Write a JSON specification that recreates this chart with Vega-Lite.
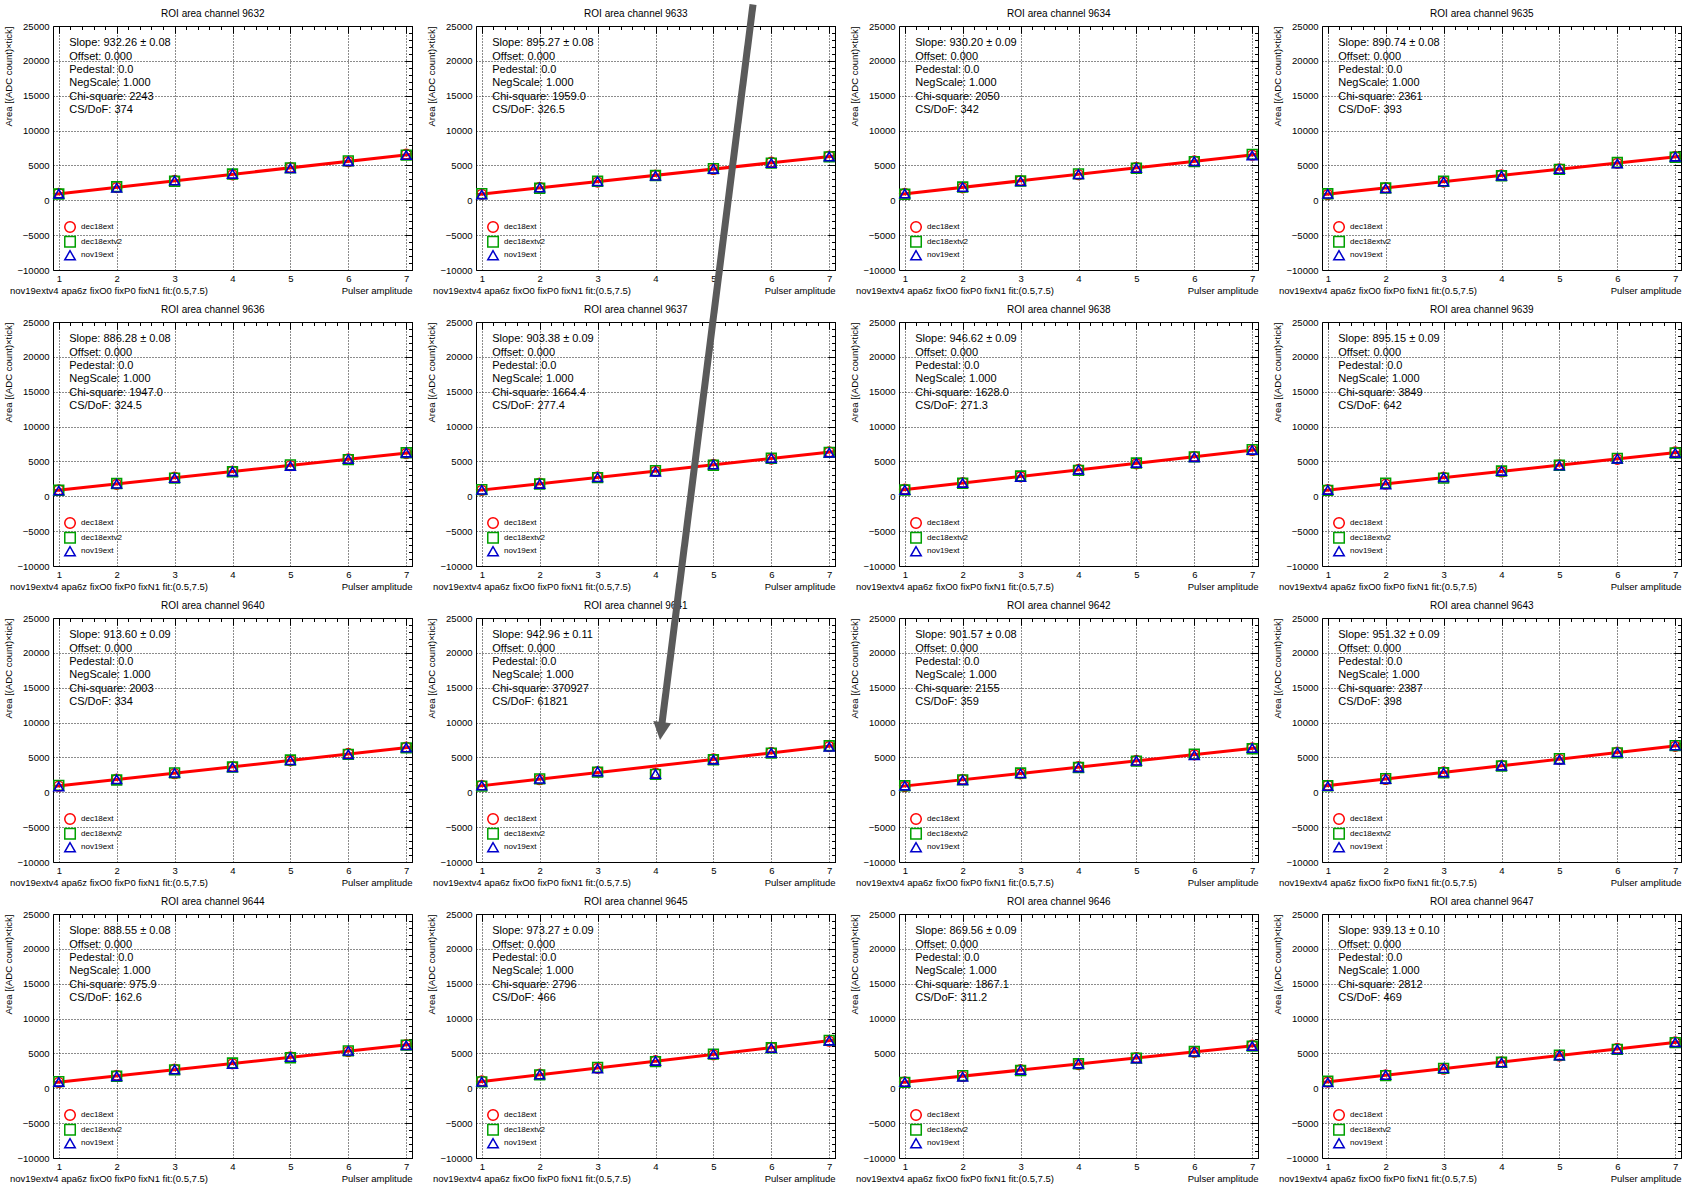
{
  "$schema": "https://vega.github.io/schema/vega-lite/v6.json",
  "background": "white",
  "padding": {"left": 2, "top": 0, "right": 0, "bottom": 0},
  "data": {
    "values": [
      {"kind": "fit", "ch": 9632, "title": "ROI area channel 9632", "slope": 932.26, "stats": ["Slope: 932.26 ± 0.08", "Offset: 0.000", "Pedestal: 0.0", "NegScale: 1.000", "Chi-square: 2243", "CS/DoF: 374"]},
      {"kind": "fit", "ch": 9633, "title": "ROI area channel 9633", "slope": 895.27, "stats": ["Slope: 895.27 ± 0.08", "Offset: 0.000", "Pedestal: 0.0", "NegScale: 1.000", "Chi-square: 1959.0", "CS/DoF: 326.5"]},
      {"kind": "fit", "ch": 9634, "title": "ROI area channel 9634", "slope": 930.20, "stats": ["Slope: 930.20 ± 0.09", "Offset: 0.000", "Pedestal: 0.0", "NegScale: 1.000", "Chi-square: 2050", "CS/DoF: 342"]},
      {"kind": "fit", "ch": 9635, "title": "ROI area channel 9635", "slope": 890.74, "stats": ["Slope: 890.74 ± 0.08", "Offset: 0.000", "Pedestal: 0.0", "NegScale: 1.000", "Chi-square: 2361", "CS/DoF: 393"]},
      {"kind": "fit", "ch": 9636, "title": "ROI area channel 9636", "slope": 886.28, "stats": ["Slope: 886.28 ± 0.08", "Offset: 0.000", "Pedestal: 0.0", "NegScale: 1.000", "Chi-square: 1947.0", "CS/DoF: 324.5"]},
      {"kind": "fit", "ch": 9637, "title": "ROI area channel 9637", "slope": 903.38, "stats": ["Slope: 903.38 ± 0.09", "Offset: 0.000", "Pedestal: 0.0", "NegScale: 1.000", "Chi-square: 1664.4", "CS/DoF: 277.4"]},
      {"kind": "fit", "ch": 9638, "title": "ROI area channel 9638", "slope": 946.62, "stats": ["Slope: 946.62 ± 0.09", "Offset: 0.000", "Pedestal: 0.0", "NegScale: 1.000", "Chi-square: 1628.0", "CS/DoF: 271.3"]},
      {"kind": "fit", "ch": 9639, "title": "ROI area channel 9639", "slope": 895.15, "stats": ["Slope: 895.15 ± 0.09", "Offset: 0.000", "Pedestal: 0.0", "NegScale: 1.000", "Chi-square: 3849", "CS/DoF: 642"]},
      {"kind": "fit", "ch": 9640, "title": "ROI area channel 9640", "slope": 913.60, "stats": ["Slope: 913.60 ± 0.09", "Offset: 0.000", "Pedestal: 0.0", "NegScale: 1.000", "Chi-square: 2003", "CS/DoF: 334"]},
      {"kind": "fit", "ch": 9641, "title": "ROI area channel 9641", "slope": 942.96, "stats": ["Slope: 942.96 ± 0.11", "Offset: 0.000", "Pedestal: 0.0", "NegScale: 1.000", "Chi-square: 370927", "CS/DoF: 61821"]},
      {"kind": "fit", "ch": 9642, "title": "ROI area channel 9642", "slope": 901.57, "stats": ["Slope: 901.57 ± 0.08", "Offset: 0.000", "Pedestal: 0.0", "NegScale: 1.000", "Chi-square: 2155", "CS/DoF: 359"]},
      {"kind": "fit", "ch": 9643, "title": "ROI area channel 9643", "slope": 951.32, "stats": ["Slope: 951.32 ± 0.09", "Offset: 0.000", "Pedestal: 0.0", "NegScale: 1.000", "Chi-square: 2387", "CS/DoF: 398"]},
      {"kind": "fit", "ch": 9644, "title": "ROI area channel 9644", "slope": 888.55, "stats": ["Slope: 888.55 ± 0.08", "Offset: 0.000", "Pedestal: 0.0", "NegScale: 1.000", "Chi-square: 975.9", "CS/DoF: 162.6"]},
      {"kind": "fit", "ch": 9645, "title": "ROI area channel 9645", "slope": 973.27, "stats": ["Slope: 973.27 ± 0.09", "Offset: 0.000", "Pedestal: 0.0", "NegScale: 1.000", "Chi-square: 2796", "CS/DoF: 466"]},
      {"kind": "fit", "ch": 9646, "title": "ROI area channel 9646", "slope": 869.56, "stats": ["Slope: 869.56 ± 0.09", "Offset: 0.000", "Pedestal: 0.0", "NegScale: 1.000", "Chi-square: 1867.1", "CS/DoF: 311.2"]},
      {"kind": "fit", "ch": 9647, "title": "ROI area channel 9647", "slope": 939.13, "stats": ["Slope: 939.13 ± 0.10", "Offset: 0.000", "Pedestal: 0.0", "NegScale: 1.000", "Chi-square: 2812", "CS/DoF: 469"]},

      {"kind": "pts", "ch": 9632, "x": 1, "dec18ext": 992, "dec18extv2": 902, "nov19ext": 952},
      {"kind": "pts", "ch": 9632, "x": 2, "dec18ext": 1825, "dec18extv2": 1935, "nov19ext": 1785},
      {"kind": "pts", "ch": 9632, "x": 3, "dec18ext": 2847, "dec18extv2": 2737, "nov19ext": 2827},
      {"kind": "pts", "ch": 9632, "x": 4, "dec18ext": 3659, "dec18extv2": 3769, "nov19ext": 3779},
      {"kind": "pts", "ch": 9632, "x": 5, "dec18ext": 4691, "dec18extv2": 4641, "nov19ext": 4601},
      {"kind": "pts", "ch": 9632, "x": 6, "dec18ext": 5544, "dec18extv2": 5654, "nov19ext": 5614},
      {"kind": "pts", "ch": 9632, "x": 7, "dec18ext": 6606, "dec18extv2": 6476, "nov19ext": 6496},

      {"kind": "pts", "ch": 9633, "x": 1, "dec18ext": 855, "dec18extv2": 965, "nov19ext": 815},
      {"kind": "pts", "ch": 9633, "x": 2, "dec18ext": 1841, "dec18extv2": 1731, "nov19ext": 1821},
      {"kind": "pts", "ch": 9633, "x": 3, "dec18ext": 2616, "dec18extv2": 2726, "nov19ext": 2736},
      {"kind": "pts", "ch": 9633, "x": 4, "dec18ext": 3611, "dec18extv2": 3561, "nov19ext": 3521},
      {"kind": "pts", "ch": 9633, "x": 5, "dec18ext": 4426, "dec18extv2": 4536, "nov19ext": 4496},
      {"kind": "pts", "ch": 9633, "x": 6, "dec18ext": 5452, "dec18extv2": 5322, "nov19ext": 5342},
      {"kind": "pts", "ch": 9633, "x": 7, "dec18ext": 6327, "dec18extv2": 6237, "nov19ext": 6287},

      {"kind": "pts", "ch": 9634, "x": 1, "dec18ext": 980, "dec18extv2": 870, "nov19ext": 960},
      {"kind": "pts", "ch": 9634, "x": 2, "dec18ext": 1790, "dec18extv2": 1900, "nov19ext": 1910},
      {"kind": "pts", "ch": 9634, "x": 3, "dec18ext": 2821, "dec18extv2": 2771, "nov19ext": 2731},
      {"kind": "pts", "ch": 9634, "x": 4, "dec18ext": 3671, "dec18extv2": 3781, "nov19ext": 3741},
      {"kind": "pts", "ch": 9634, "x": 5, "dec18ext": 4731, "dec18extv2": 4601, "nov19ext": 4621},
      {"kind": "pts", "ch": 9634, "x": 6, "dec18ext": 5641, "dec18extv2": 5551, "nov19ext": 5601},
      {"kind": "pts", "ch": 9634, "x": 7, "dec18ext": 6471, "dec18extv2": 6581, "nov19ext": 6431},

      {"kind": "pts", "ch": 9635, "x": 1, "dec18ext": 821, "dec18extv2": 931, "nov19ext": 941},
      {"kind": "pts", "ch": 9635, "x": 2, "dec18ext": 1811, "dec18extv2": 1761, "nov19ext": 1721},
      {"kind": "pts", "ch": 9635, "x": 3, "dec18ext": 2622, "dec18extv2": 2732, "nov19ext": 2692},
      {"kind": "pts", "ch": 9635, "x": 4, "dec18ext": 3643, "dec18extv2": 3513, "nov19ext": 3533},
      {"kind": "pts", "ch": 9635, "x": 5, "dec18ext": 4514, "dec18extv2": 4424, "nov19ext": 4474},
      {"kind": "pts", "ch": 9635, "x": 6, "dec18ext": 5304, "dec18extv2": 5414, "nov19ext": 5264},
      {"kind": "pts", "ch": 9635, "x": 7, "dec18ext": 6285, "dec18extv2": 6175, "nov19ext": 6265},

      {"kind": "pts", "ch": 9636, "x": 1, "dec18ext": 916, "dec18extv2": 866, "nov19ext": 826},
      {"kind": "pts", "ch": 9636, "x": 2, "dec18ext": 1723, "dec18extv2": 1833, "nov19ext": 1793},
      {"kind": "pts", "ch": 9636, "x": 3, "dec18ext": 2739, "dec18extv2": 2609, "nov19ext": 2629},
      {"kind": "pts", "ch": 9636, "x": 4, "dec18ext": 3605, "dec18extv2": 3515, "nov19ext": 3565},
      {"kind": "pts", "ch": 9636, "x": 5, "dec18ext": 4391, "dec18extv2": 4501, "nov19ext": 4351},
      {"kind": "pts", "ch": 9636, "x": 6, "dec18ext": 5368, "dec18extv2": 5258, "nov19ext": 5348},
      {"kind": "pts", "ch": 9636, "x": 7, "dec18ext": 6134, "dec18extv2": 6244, "nov19ext": 6254},

      {"kind": "pts", "ch": 9637, "x": 1, "dec18ext": 853, "dec18extv2": 963, "nov19ext": 923},
      {"kind": "pts", "ch": 9637, "x": 2, "dec18ext": 1887, "dec18extv2": 1757, "nov19ext": 1777},
      {"kind": "pts", "ch": 9637, "x": 3, "dec18ext": 2770, "dec18extv2": 2680, "nov19ext": 2730},
      {"kind": "pts", "ch": 9637, "x": 4, "dec18ext": 3574, "dec18extv2": 3684, "nov19ext": 3534},
      {"kind": "pts", "ch": 9637, "x": 5, "dec18ext": 4567, "dec18extv2": 4457, "nov19ext": 4547},
      {"kind": "pts", "ch": 9637, "x": 6, "dec18ext": 5350, "dec18extv2": 5460, "nov19ext": 5470},
      {"kind": "pts", "ch": 9637, "x": 7, "dec18ext": 6354, "dec18extv2": 6304, "nov19ext": 6264},

      {"kind": "pts", "ch": 9638, "x": 1, "dec18ext": 1027, "dec18extv2": 897, "nov19ext": 917},
      {"kind": "pts", "ch": 9638, "x": 2, "dec18ext": 1953, "dec18extv2": 1863, "nov19ext": 1913},
      {"kind": "pts", "ch": 9638, "x": 3, "dec18ext": 2800, "dec18extv2": 2910, "nov19ext": 2760},
      {"kind": "pts", "ch": 9638, "x": 4, "dec18ext": 3836, "dec18extv2": 3726, "nov19ext": 3816},
      {"kind": "pts", "ch": 9638, "x": 5, "dec18ext": 4663, "dec18extv2": 4773, "nov19ext": 4783},
      {"kind": "pts", "ch": 9638, "x": 6, "dec18ext": 5710, "dec18extv2": 5660, "nov19ext": 5620},
      {"kind": "pts", "ch": 9638, "x": 7, "dec18ext": 6576, "dec18extv2": 6686, "nov19ext": 6646},

      {"kind": "pts", "ch": 9639, "x": 1, "dec18ext": 965, "dec18extv2": 855, "nov19ext": 915},
      {"kind": "pts", "ch": 9639, "x": 2, "dec18ext": 1740, "dec18extv2": 1870, "nov19ext": 1700},
      {"kind": "pts", "ch": 9639, "x": 3, "dec18ext": 2745, "dec18extv2": 2615, "nov19ext": 2725},
      {"kind": "pts", "ch": 9639, "x": 4, "dec18ext": 3501, "dec18extv2": 3631, "nov19ext": 3641},
      {"kind": "pts", "ch": 9639, "x": 5, "dec18ext": 4516, "dec18extv2": 4446, "nov19ext": 4406},
      {"kind": "pts", "ch": 9639, "x": 6, "dec18ext": 5311, "dec18extv2": 5441, "nov19ext": 5401},
      {"kind": "pts", "ch": 9639, "x": 7, "dec18ext": 6366, "dec18extv2": 6206, "nov19ext": 6226},

      {"kind": "pts", "ch": 9640, "x": 1, "dec18ext": 874, "dec18extv2": 984, "nov19ext": 834},
      {"kind": "pts", "ch": 9640, "x": 2, "dec18ext": 1877, "dec18extv2": 1767, "nov19ext": 1857},
      {"kind": "pts", "ch": 9640, "x": 3, "dec18ext": 2671, "dec18extv2": 2781, "nov19ext": 2791},
      {"kind": "pts", "ch": 9640, "x": 4, "dec18ext": 3684, "dec18extv2": 3634, "nov19ext": 3594},
      {"kind": "pts", "ch": 9640, "x": 5, "dec18ext": 4518, "dec18extv2": 4628, "nov19ext": 4588},
      {"kind": "pts", "ch": 9640, "x": 6, "dec18ext": 5562, "dec18extv2": 5432, "nov19ext": 5452},
      {"kind": "pts", "ch": 9640, "x": 7, "dec18ext": 6455, "dec18extv2": 6365, "nov19ext": 6415},

      {"kind": "pts", "ch": 9641, "x": 1, "dec18ext": 993, "dec18extv2": 883, "nov19ext": 973},
      {"kind": "pts", "ch": 9641, "x": 2, "dec18ext": 1816, "dec18extv2": 1926, "nov19ext": 1936},
      {"kind": "pts", "ch": 9641, "x": 3, "dec18ext": 2950, "dec18extv2": 2900, "nov19ext": 2990},
      {"kind": "pts", "ch": 9641, "x": 4, "dec18ext": 2750, "dec18extv2": 2580, "nov19ext": 2640},
      {"kind": "pts", "ch": 9641, "x": 5, "dec18ext": 4795, "dec18extv2": 4665, "nov19ext": 4685},
      {"kind": "pts", "ch": 9641, "x": 6, "dec18ext": 5718, "dec18extv2": 5628, "nov19ext": 5678},
      {"kind": "pts", "ch": 9641, "x": 7, "dec18ext": 6561, "dec18extv2": 6671, "nov19ext": 6521},

      {"kind": "pts", "ch": 9642, "x": 1, "dec18ext": 832, "dec18extv2": 942, "nov19ext": 952},
      {"kind": "pts", "ch": 9642, "x": 2, "dec18ext": 1833, "dec18extv2": 1783, "nov19ext": 1743},
      {"kind": "pts", "ch": 9642, "x": 3, "dec18ext": 2655, "dec18extv2": 2765, "nov19ext": 2725},
      {"kind": "pts", "ch": 9642, "x": 4, "dec18ext": 3686, "dec18extv2": 3556, "nov19ext": 3576},
      {"kind": "pts", "ch": 9642, "x": 5, "dec18ext": 4568, "dec18extv2": 4478, "nov19ext": 4528},
      {"kind": "pts", "ch": 9642, "x": 6, "dec18ext": 5369, "dec18extv2": 5479, "nov19ext": 5329},
      {"kind": "pts", "ch": 9642, "x": 7, "dec18ext": 6361, "dec18extv2": 6251, "nov19ext": 6341},

      {"kind": "pts", "ch": 9643, "x": 1, "dec18ext": 981, "dec18extv2": 931, "nov19ext": 891},
      {"kind": "pts", "ch": 9643, "x": 2, "dec18ext": 1853, "dec18extv2": 1963, "nov19ext": 1923},
      {"kind": "pts", "ch": 9643, "x": 3, "dec18ext": 2934, "dec18extv2": 2804, "nov19ext": 2824},
      {"kind": "pts", "ch": 9643, "x": 4, "dec18ext": 3865, "dec18extv2": 3775, "nov19ext": 3825},
      {"kind": "pts", "ch": 9643, "x": 5, "dec18ext": 4717, "dec18extv2": 4827, "nov19ext": 4677},
      {"kind": "pts", "ch": 9643, "x": 6, "dec18ext": 5758, "dec18extv2": 5648, "nov19ext": 5738},
      {"kind": "pts", "ch": 9643, "x": 7, "dec18ext": 6589, "dec18extv2": 6699, "nov19ext": 6709},

      {"kind": "pts", "ch": 9644, "x": 1, "dec18ext": 839, "dec18extv2": 949, "nov19ext": 909},
      {"kind": "pts", "ch": 9644, "x": 2, "dec18ext": 1857, "dec18extv2": 1727, "nov19ext": 1747},
      {"kind": "pts", "ch": 9644, "x": 3, "dec18ext": 2726, "dec18extv2": 2636, "nov19ext": 2686},
      {"kind": "pts", "ch": 9644, "x": 4, "dec18ext": 3514, "dec18extv2": 3624, "nov19ext": 3474},
      {"kind": "pts", "ch": 9644, "x": 5, "dec18ext": 4493, "dec18extv2": 4383, "nov19ext": 4473},
      {"kind": "pts", "ch": 9644, "x": 6, "dec18ext": 5261, "dec18extv2": 5371, "nov19ext": 5381},
      {"kind": "pts", "ch": 9644, "x": 7, "dec18ext": 6250, "dec18extv2": 6200, "nov19ext": 6160},

      {"kind": "pts", "ch": 9645, "x": 1, "dec18ext": 1053, "dec18extv2": 923, "nov19ext": 943},
      {"kind": "pts", "ch": 9645, "x": 2, "dec18ext": 2007, "dec18extv2": 1917, "nov19ext": 1967},
      {"kind": "pts", "ch": 9645, "x": 3, "dec18ext": 2880, "dec18extv2": 2990, "nov19ext": 2840},
      {"kind": "pts", "ch": 9645, "x": 4, "dec18ext": 3943, "dec18extv2": 3833, "nov19ext": 3923},
      {"kind": "pts", "ch": 9645, "x": 5, "dec18ext": 4796, "dec18extv2": 4906, "nov19ext": 4916},
      {"kind": "pts", "ch": 9645, "x": 6, "dec18ext": 5870, "dec18extv2": 5820, "nov19ext": 5780},
      {"kind": "pts", "ch": 9645, "x": 7, "dec18ext": 6763, "dec18extv2": 6873, "nov19ext": 6833},

      {"kind": "pts", "ch": 9646, "x": 1, "dec18ext": 930, "dec18extv2": 840, "nov19ext": 890},
      {"kind": "pts", "ch": 9646, "x": 2, "dec18ext": 1699, "dec18extv2": 1809, "nov19ext": 1659},
      {"kind": "pts", "ch": 9646, "x": 3, "dec18ext": 2659, "dec18extv2": 2549, "nov19ext": 2639},
      {"kind": "pts", "ch": 9646, "x": 4, "dec18ext": 3408, "dec18extv2": 3518, "nov19ext": 3528},
      {"kind": "pts", "ch": 9646, "x": 5, "dec18ext": 4378, "dec18extv2": 4328, "nov19ext": 4288},
      {"kind": "pts", "ch": 9646, "x": 6, "dec18ext": 5167, "dec18extv2": 5277, "nov19ext": 5237},
      {"kind": "pts", "ch": 9646, "x": 7, "dec18ext": 6167, "dec18extv2": 6037, "nov19ext": 6057},

      {"kind": "pts", "ch": 9647, "x": 1, "dec18ext": 899, "dec18extv2": 1009, "nov19ext": 859},
      {"kind": "pts", "ch": 9647, "x": 2, "dec18ext": 1928, "dec18extv2": 1818, "nov19ext": 1908},
      {"kind": "pts", "ch": 9647, "x": 3, "dec18ext": 2747, "dec18extv2": 2857, "nov19ext": 2867},
      {"kind": "pts", "ch": 9647, "x": 4, "dec18ext": 3787, "dec18extv2": 3737, "nov19ext": 3697},
      {"kind": "pts", "ch": 9647, "x": 5, "dec18ext": 4646, "dec18extv2": 4756, "nov19ext": 4716},
      {"kind": "pts", "ch": 9647, "x": 6, "dec18ext": 5715, "dec18extv2": 5585, "nov19ext": 5605},
      {"kind": "pts", "ch": 9647, "x": 7, "dec18ext": 6634, "dec18extv2": 6544, "nov19ext": 6594}
    ]
  },
  "facet": {"field": "ch", "type": "ordinal", "header": {"title": null, "labels": false, "labelExpr": "''", "labelFontSize": 0, "labelPadding": 0}},
  "columns": 4,
  "spacing": {"row": 52, "column": 64},
  "bounds": "flush",
  "resolve": {"axis": {"x": "independent", "y": "independent"}},
  "spec": {
    "width": 359,
    "height": 244,
    "resolve": {"axis": {"x": "independent", "y": "independent"}},
    "layer": [
      {
        "transform": [
          {"filter": "datum.kind === 'fit'"},
          {"calculate": "datum.slope * 0.9", "as": "fitLeft"},
          {"calculate": "datum.slope * 7.1", "as": "fitRight"}
        ],
        "mark": {"type": "rule", "color": "#ff0000", "strokeWidth": 3},
        "encoding": {
          "x": {
            "datum": 0.9, "type": "quantitative",
            "scale": {"domain": [0.9, 7.1], "nice": false, "zero": false},
            "axis": {"values": [1, 2, 3, 4, 5, 6, 7], "format": "d", "ticks": false, "domain": false, "grid": true, "labelPadding": 3, "title": "Pulser amplitude", "titleAnchor": "end", "titlePadding": 3}
          },
          "x2": {"datum": 7.1},
          "y": {
            "field": "fitLeft", "type": "quantitative",
            "scale": {"domain": [-10000, 25000], "nice": false, "zero": false},
            "axis": {"values": [-10000, -5000, 0, 5000, 10000, 15000, 20000, 25000], "format": "d", "ticks": false, "domain": false, "grid": true, "labelPadding": 4, "title": "Area [(ADC count)×tick]", "titleAnchor": "end", "titlePadding": 4}
          },
          "y2": {"field": "fitRight"}
        }
      },
      {
        "transform": [
          {"filter": "datum.kind === 'pts'"},
          {"fold": ["dec18ext", "dec18extv2", "nov19ext"], "as": ["run", "area"]}
        ],
        "mark": {"type": "point", "filled": false, "strokeWidth": 1.6, "size": 95},
        "encoding": {
          "x": {"field": "x", "type": "quantitative", "axis": {"values": [1, 2, 3, 4, 5, 6, 7], "labels": false, "domain": false, "grid": false, "tickSize": -7, "title": null}},
          "y": {"field": "area", "type": "quantitative", "axis": {"values": [-10000, -5000, 0, 5000, 10000, 15000, 20000, 25000], "labels": false, "domain": false, "grid": false, "tickSize": -7, "title": null}},
          "shape": {"field": "run", "type": "nominal", "scale": {"domain": ["dec18ext", "dec18extv2", "nov19ext"], "range": ["circle", "square", "triangle-up"]}, "legend": null},
          "color": {"field": "run", "type": "nominal", "scale": {"domain": ["dec18ext", "dec18extv2", "nov19ext"], "range": ["#ff0000", "#00a000", "#0000cc"]}, "legend": null}
        }
      },
      {
        "transform": [{"filter": "datum.kind === 'fit'"}],
        "mark": {"type": "text", "align": "left", "baseline": "top", "fontSize": 11, "lineHeight": 13.4},
        "encoding": {
          "x": {"datum": 1.18, "type": "quantitative", "axis": {"values": [1, 1.2, 1.4, 1.6, 1.8, 2, 2.2, 2.4, 2.6, 2.8, 3, 3.2, 3.4, 3.6, 3.8, 4, 4.2, 4.4, 4.6, 4.8, 5, 5.2, 5.4, 5.6, 5.8, 6, 6.2, 6.4, 6.6, 6.8, 7], "labels": false, "domain": false, "grid": false, "tickSize": -3.5, "title": null}},
          "y": {"datum": 23400, "type": "quantitative", "axis": {"values": [-10000, -9000, -8000, -7000, -6000, -5000, -4000, -3000, -2000, -1000, 0, 1000, 2000, 3000, 4000, 5000, 6000, 7000, 8000, 9000, 10000, 11000, 12000, 13000, 14000, 15000, 16000, 17000, 18000, 19000, 20000, 21000, 22000, 23000, 24000, 25000], "labels": false, "domain": false, "grid": false, "tickSize": -3.5, "title": null}},
          "text": {"field": "stats"}
        }
      },
      {
        "transform": [{"filter": "datum.kind === 'fit'"}],
        "mark": {"type": "point", "shape": "circle", "filled": false, "color": "#ff0000", "strokeWidth": 1.5, "size": 110},
        "encoding": {
          "x": {"datum": 1.194, "type": "quantitative", "axis": {"orient": "top", "values": [1, 2, 3, 4, 5, 6, 7], "labels": false, "domain": false, "grid": false, "tickSize": -7, "title": null}},
          "y": {"datum": -3830, "type": "quantitative", "axis": {"orient": "right", "values": [-10000, -5000, 0, 5000, 10000, 15000, 20000, 25000], "labels": false, "domain": false, "grid": false, "tickSize": -7, "title": null}}
        }
      },
      {
        "transform": [{"filter": "datum.kind === 'fit'"}],
        "mark": {"type": "point", "shape": "square", "filled": false, "color": "#00a000", "strokeWidth": 1.5, "size": 110},
        "encoding": {
          "x": {"datum": 1.194, "type": "quantitative", "axis": {"orient": "top", "values": [1, 1.2, 1.4, 1.6, 1.8, 2, 2.2, 2.4, 2.6, 2.8, 3, 3.2, 3.4, 3.6, 3.8, 4, 4.2, 4.4, 4.6, 4.8, 5, 5.2, 5.4, 5.6, 5.8, 6, 6.2, 6.4, 6.6, 6.8, 7], "labels": false, "domain": false, "grid": false, "tickSize": -3.5, "title": null}},
          "y": {"datum": -5940, "type": "quantitative", "axis": {"orient": "right", "values": [-10000, -9000, -8000, -7000, -6000, -5000, -4000, -3000, -2000, -1000, 0, 1000, 2000, 3000, 4000, 5000, 6000, 7000, 8000, 9000, 10000, 11000, 12000, 13000, 14000, 15000, 16000, 17000, 18000, 19000, 20000, 21000, 22000, 23000, 24000, 25000], "labels": false, "domain": false, "grid": false, "tickSize": -3.5, "title": null}}
        }
      },
      {
        "transform": [{"filter": "datum.kind === 'fit'"}],
        "mark": {"type": "point", "shape": "triangle-up", "filled": false, "color": "#0000cc", "strokeWidth": 1.5, "size": 110},
        "encoding": {
          "x": {"datum": 1.194, "type": "quantitative", "axis": null},
          "y": {"datum": -7890, "type": "quantitative", "axis": null}
        }
      },
      {
        "transform": [{"filter": "datum.kind === 'fit'"}],
        "mark": {"type": "text", "align": "left", "baseline": "middle", "fontSize": 8},
        "encoding": {
          "x": {"datum": 1.384, "type": "quantitative", "axis": null},
          "y": {"datum": -3830, "type": "quantitative", "axis": null},
          "text": {"value": "dec18ext"}
        }
      },
      {
        "transform": [{"filter": "datum.kind === 'fit'"}],
        "mark": {"type": "text", "align": "left", "baseline": "middle", "fontSize": 8},
        "encoding": {
          "x": {"datum": 1.384, "type": "quantitative", "axis": null},
          "y": {"datum": -5940, "type": "quantitative", "axis": null},
          "text": {"value": "dec18extv2"}
        }
      },
      {
        "transform": [{"filter": "datum.kind === 'fit'"}],
        "mark": {"type": "text", "align": "left", "baseline": "middle", "fontSize": 8},
        "encoding": {
          "x": {"datum": 1.384, "type": "quantitative", "axis": null},
          "y": {"datum": -7890, "type": "quantitative", "axis": null},
          "text": {"value": "nov19ext"}
        }
      },
      {
        "transform": [{"filter": "datum.kind === 'fit'"}],
        "mark": {"type": "text", "align": "center", "baseline": "middle", "fontSize": 10},
        "encoding": {
          "x": {"datum": 3.66, "type": "quantitative", "axis": null},
          "y": {"datum": 26720, "type": "quantitative", "axis": null},
          "text": {"field": "title"}
        }
      },
      {
        "transform": [{"filter": "datum.kind === 'fit'"}],
        "mark": {"type": "text", "align": "left", "baseline": "middle", "fontSize": 9.5},
        "encoding": {
          "x": {"datum": 0.157, "type": "quantitative", "axis": null},
          "y": {"datum": -13050, "type": "quantitative", "axis": null},
          "text": {"value": "nov19extv4 apa6z fixO0 fixP0 fixN1 fit:(0.5,7.5)"}
        }
      },
      {
        "transform": [{"filter": "datum.kind === 'fit' && datum.ch === 9641"}],
        "mark": {"type": "rule", "color": "#5a5a5a", "strokeWidth": 7, "clip": false},
        "encoding": {
          "x": {"datum": 5.684, "type": "quantitative", "axis": null},
          "y": {"datum": 113000, "type": "quantitative", "axis": null},
          "x2": {"datum": 4.104},
          "y2": {"datum": 9365}
        }
      },
      {
        "transform": [{"filter": "datum.kind === 'fit' && datum.ch === 9641"}],
        "mark": {"type": "point", "shape": "M0,0 L-0.5,-1 L0.5,-1 Z", "filled": true, "color": "#5a5a5a", "opacity": 1, "strokeWidth": 0, "size": 1296, "angle": 7},
        "encoding": {
          "x": {"datum": 4.078, "type": "quantitative", "axis": null},
          "y": {"datum": 7500, "type": "quantitative", "axis": null}
        }
      }
    ]
  },
  "config": {
    "font": "Liberation Sans",
    "view": {"stroke": "black", "strokeWidth": 1},
    "header": {"labels": false, "title": null},
    "axis": {
      "labelFont": "Liberation Sans",
      "titleFont": "Liberation Sans",
      "labelColor": "black",
      "titleColor": "black",
      "labelFontSize": 9.5,
      "titleFontSize": 9.5,
      "titleFontWeight": "normal",
      "tickColor": "black",
      "tickWidth": 1,
      "gridColor": "black",
      "gridOpacity": 0.9,
      "gridDash": [1, 2],
      "gridWidth": 1
    },
    "text": {"font": "Liberation Sans", "color": "black"},
    "point": {"opacity": 1}
  }
}
